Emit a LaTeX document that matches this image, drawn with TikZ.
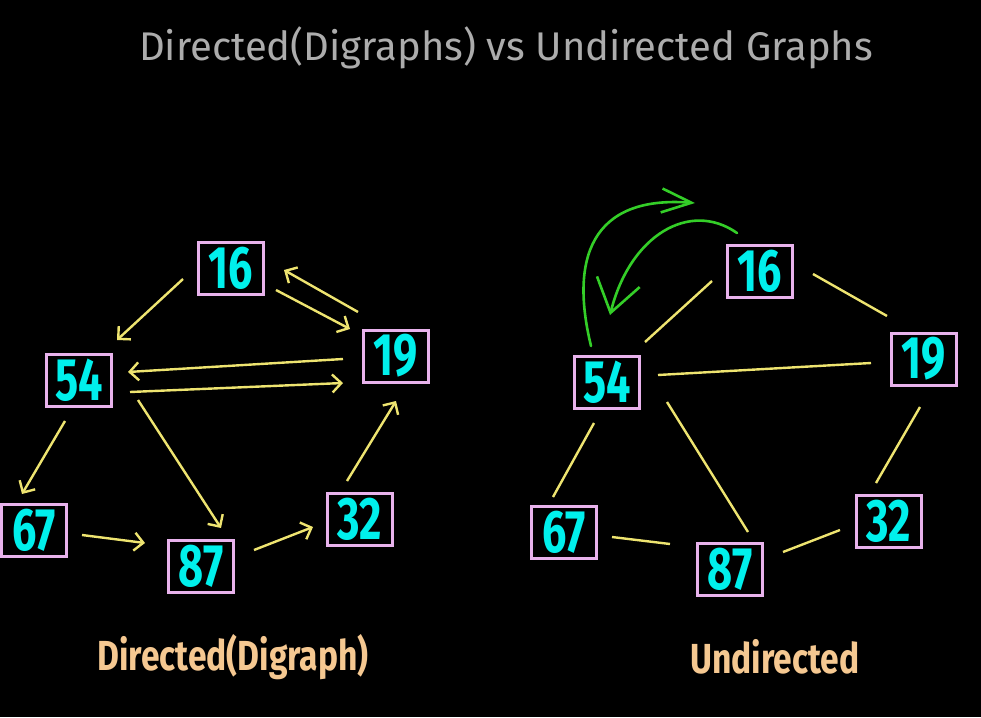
\documentclass[tikz,border=0pt]{standalone}
\usepackage{fontspec}
\usepackage{tikz}
\usetikzlibrary{arrows.meta}
\newfontfamily\condfont{Fira Sans}[FakeStretch=0.72]
\newfontfamily\capfont{Fira Sans}[FakeStretch=0.8]
\newfontfamily\titlefont{Fira Sans}[FakeStretch=1.0]
\definecolor{boxpink}{RGB}{232,178,236}
\definecolor{numcyan}{RGB}{0,240,236}
\definecolor{edgeyellow}{RGB}{238,228,112}
\definecolor{loopgreen}{RGB}{52,206,40}
\definecolor{labelpeach}{RGB}{245,200,145}
\definecolor{titlegray}{RGB}{172,172,172}

\begin{document}
\begin{tikzpicture}[
    x=1pt, y=-1pt,
    box/.style={rectangle, draw=boxpink, line width=3pt, fill=black, minimum width=65pt, minimum height=52pt, inner sep=0pt, text=numcyan, font=\condfont\bfseries\fontsize{60}{60}\selectfont},
    caption/.style={text=labelpeach, font=\capfont\bfseries\fontsize{42}{42}\selectfont},
    arrow/.style={draw=edgeyellow, line width=2.4pt, -{Straight Barb[length=9pt, width=18pt]}},
    edge/.style={draw=edgeyellow, line width=2.4pt},
    swing/.style={draw=loopgreen, line width=2.6pt, line cap=round}
]
    \fill[black] (0,0) rectangle (981,717);
    \useasboundingbox (0,0) rectangle (981,717);

    \node[text=titlegray, font=\titlefont\fontsize{40}{40}\selectfont] (title) at (506,48) {Directed(Digraphs) vs Undirected Graphs};

    % directed graph
    \node[box] (d16) at (231,268) {16};
    \node[box] (d19) at (396,356) {19};
    \node[box] (d54) at (79,380) {54};
    \node[box] (d67) at (34,530) {67};
    \node[box] (d87) at (201,566) {87};
    \node[box] (d32) at (360,519) {32};

    \draw[arrow] ([shift={(-48,11)}]d16.center) -- ([shift={(38,-40)}]d54.center);
    \draw[arrow] ([shift={(45,22)}]d16.center) -- ([shift={(-46,-27)}]d19.center);
    \draw[arrow] ([shift={(-38,-44)}]d19.center) -- ([shift={(53,2)}]d16.center);
    \draw[arrow] ([shift={(-53,3)}]d19.center) -- ([shift={(49,-8)}]d54.center);
    \draw[arrow] ([shift={(51,12)}]d54.center) -- ([shift={(-53,27)}]d19.center);
    \draw[arrow] ([shift={(-14,41)}]d54.center) -- ([shift={(-12,-36)}]d67.center);
    \draw[arrow] ([shift={(59,20)}]d54.center) -- ([shift={(20,-38)}]d87.center);
    \draw[arrow] ([shift={(48,5)}]d67.center) -- ([shift={(-56,-23)}]d87.center);
    \draw[arrow] ([shift={(53,-16)}]d87.center) -- ([shift={(-47,8)}]d32.center);
    \draw[arrow] ([shift={(-13,-38)}]d32.center) -- ([shift={(0,45)}]d19.center);

    \node[caption] (dcap) at (233,657) {Directed(Digraph)};

    % undirected graph
    \node[box] (u16) at (760,271) {16};
    \node[box] (u19) at (924,359) {19};
    \node[box] (u54) at (607,382) {54};
    \node[box] (u67) at (564,532) {67};
    \node[box] (u87) at (730,569) {87};
    \node[box] (u32) at (889,521) {32};

    \draw[edge] ([shift={(38,-40)}]u54.center) -- ([shift={(-48,10)}]u16.center);
    \draw[edge] ([shift={(53,3)}]u16.center) -- ([shift={(-37,-43)}]u19.center);
    \draw[edge] ([shift={(51,-7)}]u54.center) -- ([shift={(-53,4)}]u19.center);
    \draw[edge] ([shift={(-13,41)}]u54.center) -- ([shift={(-11,-35)}]u67.center);
    \draw[edge] ([shift={(60,20)}]u54.center) -- ([shift={(18,-37)}]u87.center);
    \draw[edge] ([shift={(48,5)}]u67.center) -- ([shift={(-60,-25)}]u87.center);
    \draw[edge] ([shift={(53,-17)}]u87.center) -- ([shift={(-49,9)}]u32.center);
    \draw[edge] ([shift={(-4,48)}]u19.center) -- ([shift={(-13,-38)}]u32.center);

    % green swing arrows
    \draw[swing, -{Straight Barb[length=30pt, width=24pt]}] ([shift={(-16,-36)}]u54.center) .. controls (570,260) and (590,195) .. ([shift={(-65,-68)}]u16.center);
    \draw[swing, -{Straight Barb[length=32pt, width=44pt]}] ([shift={(-23,-38)}]u16.center) .. controls (690,200) and (630,235) .. ([shift={(3,-67)}]u54.center);

    \node[caption] (ucap) at (775,657) {Undirected};
\end{tikzpicture}
\end{document}
